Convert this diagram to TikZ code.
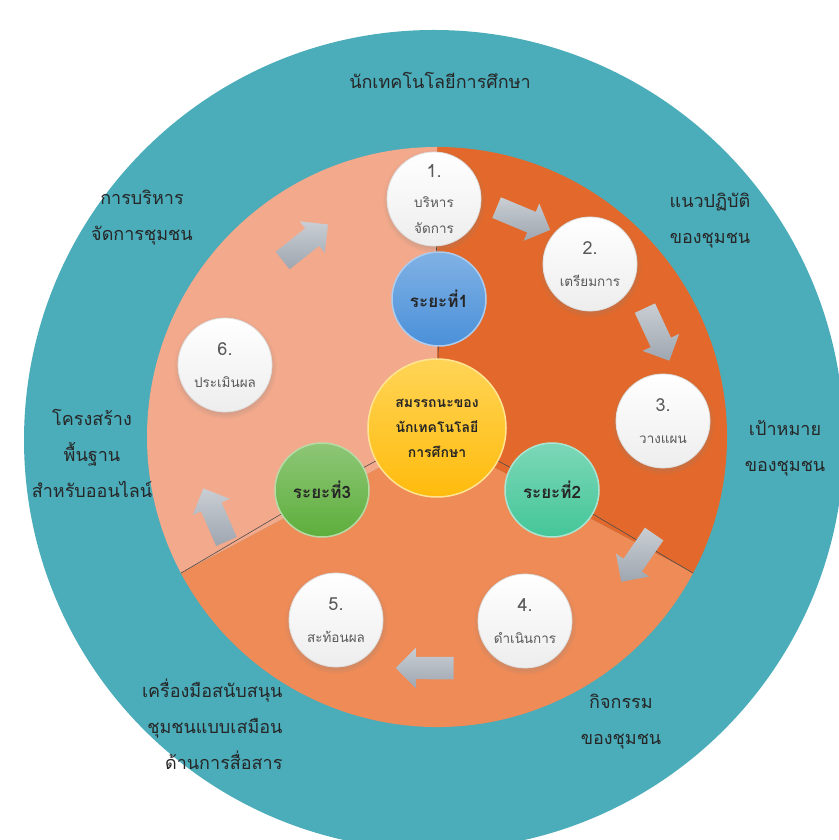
\documentclass[tikz,border=0pt]{standalone}
\usepackage{fontspec}
\setmainfont{Loma}[Script=Thai]
\usetikzlibrary{shapes.arrows,shadows,calc}
\definecolor{ringteal}{HTML}{4BACBA}
\definecolor{sectordark}{HTML}{E2692B}
\definecolor{sectorlight}{HTML}{F3A98B}
\definecolor{sectormid}{HTML}{EE8B57}
\definecolor{phaseblue}{HTML}{4A90D9}
\definecolor{phasemint}{HTML}{44C699}
\definecolor{phasegreen}{HTML}{5DAE3C}
\definecolor{coreyellow}{HTML}{FFC20E}
\definecolor{arrowgray}{HTML}{9EA6B0}

\begin{document}
\begin{tikzpicture}[x=1pt,y=1pt,
  stepcircle/.style={circle,top color=white,bottom color=gray!14,draw=gray!25,line width=0.8pt,minimum size=94pt,inner sep=0pt,
    align=center,text=black!65,font=\fontsize{13.5}{26}\selectfont,
    circular drop shadow={opacity=0.3,shadow xshift=0pt,shadow yshift=-2pt}},
  phase/.style={circle,minimum size=94pt,inner sep=0pt,font=\bfseries\fontsize{17}{20}\selectfont,text=black!85,line width=1.5pt},
  cycarrow/.style={single arrow,single arrow head extend=9pt,minimum height=58pt,minimum width=40pt,
    inner sep=11pt,top color=arrowgray!55!white,bottom color=arrowgray,draw=none,sloped,allow upside down,midway},
  ringtext/.style={align=center,font=\fontsize{18}{36}\selectfont,text=black!85},
  boundary/.style={gray!60!black,line width=0.6pt}]
\useasboundingbox (0,0) rectangle (838,840);

% outer ring and the three sectors
\fill[ringteal] (434,400) circle (410);
\fill[sectordark] (437,403) -- ++(90:290) arc[start angle=90,end angle=-28,radius=290] -- cycle;
\fill[sectorlight] (437,403) -- ++(90:290) arc[start angle=90,end angle=208,radius=290] -- cycle;
\fill[sectormid] (437,403) -- ++(208:290) arc[start angle=208,end angle=332,radius=290] -- cycle;
\coordinate (rimL) at ($(437,403)+(208:290)$);
\coordinate (rimR) at ($(437,403)+(-28:290)$);

% core and phases
\node(core) at (437,412)[circle,minimum size=138pt,inner sep=0pt,top color=coreyellow!70!white,bottom color=coreyellow!90!orange,
  draw=coreyellow!45!white,line width=1.5pt,
  align=center,font=\bfseries\fontsize{14}{25}\selectfont,text=black!85] {สมรรถนะของ\\นักเทคโนโลยี\\การศึกษา};
\node(p1) at (439,541)[phase,top color=phaseblue!70!white,bottom color=phaseblue,draw=phaseblue!45!white] {ระยะที่1};
\node(p2) at (552,350)[phase,top color=phasemint!70!white,bottom color=phasemint,draw=phasemint!45!white] {ระยะที่2};
\node(p3) at (322,350)[phase,top color=phasegreen!70!white,bottom color=phasegreen,draw=phasegreen!45!white] {ระยะที่3};

% steps
\node(c1) at (434,641)[stepcircle] {{\fontsize{18}{18}\selectfont 1.}\\[4pt]บริหาร\\จัดการ};
\node(c2) at (590,576)[stepcircle] {{\fontsize{18}{18}\selectfont 2.}\\[6pt]เตรียมการ};
\node(c3) at (663,419)[stepcircle] {{\fontsize{18}{18}\selectfont 3.}\\[6pt]วางแผน};
\node(c4) at (525,219)[stepcircle] {{\fontsize{18}{18}\selectfont 4.}\\[6pt]ดำเนินการ};
\node(c5) at (336,220)[stepcircle] {{\fontsize{18}{18}\selectfont 5.}\\[6pt]สะท้อนผล};
\node(c6) at (225,475)[stepcircle] {{\fontsize{18}{18}\selectfont 6.}\\[6pt]ประเมินผล};

\draw[boundary] (core) -- (p1);
\draw[boundary] (p1) -- (c1);
\draw[boundary] (core) -- (p2);
\draw[boundary] (p2) -- (rimR);
\draw[boundary] (core) -- (p3);
\draw[boundary] (p3) -- (rimL);

% cycle arrows
\path (c6.center) to[bend left=36] node[cycarrow]{} (c1.center);
\path (c1.center) to[bend left=19] node[cycarrow]{} (c2.center);
\path (c2.center) to[bend left=38] node[cycarrow]{} (c3.center);
\path (c3.center) to[bend left=53] node[cycarrow]{} (c4.center);
\path (c4.center) to[bend left=59] node[cycarrow]{} (c5.center);
\path (c5.center) to[bend left=58] node[cycarrow]{} (c6.center);

% ring labels
\node(top) at (440,760)[ringtext] {นักเทคโนโลยีการศึกษา};
\node(mgmt) at (142,622)[ringtext] {การบริหาร\\จัดการชุมชน};
\node(practice) at (710,619)[ringtext] {แนวปฏิบัติ\\ของชุมชน};
\node(goal) at (785,392)[ringtext] {เป้าหมาย\\ของชุมชน};
\node(infra) at (92,387)[ringtext] {โครงสร้าง\\พื้นฐาน\\สำหรับออนไลน์};
\node(activity) at (621,118)[ringtext] {กิจกรรม\\ของชุมชน};
\node(tools) at (286,116)[ringtext,anchor=east,align=right] {เครื่องมือสนับสนุน\\ชุมชนแบบเสมือน\\ด้านการสื่อสาร};

\end{tikzpicture}
\end{document}
